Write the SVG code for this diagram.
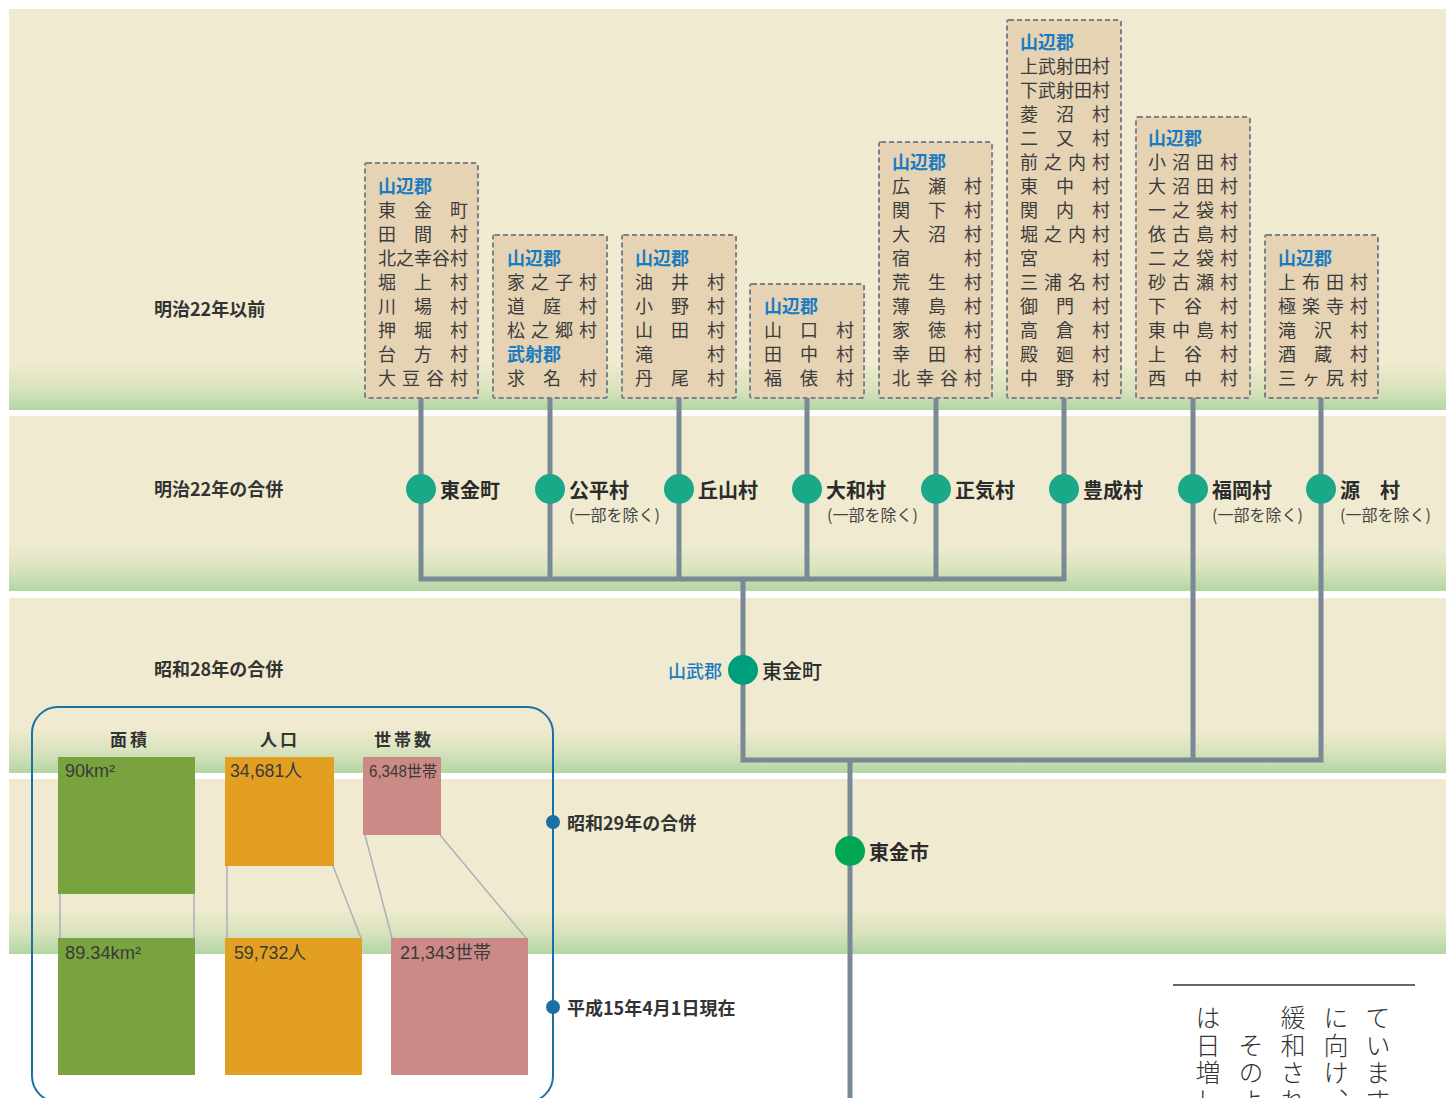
<svg xmlns="http://www.w3.org/2000/svg" width="1448" height="1098" viewBox="0 0 1448 1098">
<defs>
<linearGradient id="g1" x1="0" y1="0" x2="0" y2="1">
<stop offset="0" stop-color="#f0ebd0"/><stop offset="0.88" stop-color="#f0ebd0"/><stop offset="0.95" stop-color="#d8e2bd"/><stop offset="1" stop-color="#b2d6a4"/>
</linearGradient>
<linearGradient id="g2" x1="0" y1="0" x2="0" y2="1">
<stop offset="0" stop-color="#f0ebd0"/><stop offset="0.74" stop-color="#f0ebd0"/><stop offset="0.88" stop-color="#d8e2bd"/><stop offset="1" stop-color="#b2d6a4"/>
</linearGradient>
<style>
.vt{font-family:"Noto Sans CJK JP",sans-serif;font-size:18px;fill:#3c3c3c;dominant-baseline:central}
.hd{font-family:"Noto Sans CJK JP",sans-serif;font-size:18px;fill:#1b7bc0;font-weight:700;dominant-baseline:central}
.box{fill:#e5d3b4;stroke:#7c8189;stroke-width:2;stroke-dasharray:5 3}
.ln{fill:none;stroke:#778a96;stroke-width:5}
.nd{fill:#1aa888}
.nl{font-family:"Noto Sans CJK JP",sans-serif;font-size:20px;font-weight:700;fill:#2b2b2b;dominant-baseline:central}
.sub{font-family:"Noto Sans CJK JP",sans-serif;font-size:16px;fill:#444;dominant-baseline:central}
.era{font-family:"Noto Sans CJK JP",sans-serif;font-size:18px;font-weight:700;fill:#333;dominant-baseline:central}
.num{font-family:"Liberation Sans","Noto Sans CJK JP",sans-serif;font-size:18px;fill:#3a3a3a;dominant-baseline:central}
.sh{font-family:"Noto Sans CJK JP",sans-serif;font-size:17px;font-weight:700;fill:#333;dominant-baseline:central;letter-spacing:3px}
.cl{stroke:#aab0b8;stroke-width:1.5;fill:none}
.vert{font-family:"Noto Sans CJK JP",sans-serif;font-size:25px;font-weight:300;fill:#333;writing-mode:vertical-rl;letter-spacing:2.5px}
</style>
</defs>

<g id="bands">
<rect x="9" y="9" width="1437" height="401" fill="url(#g1)"/>
<rect x="9" y="416" width="1437" height="175" fill="url(#g2)"/>
<rect x="9" y="598" width="1437" height="175" fill="url(#g2)"/>
<rect x="9" y="779" width="1437" height="175" fill="url(#g2)"/>
</g>

<g id="era-labels">
<text class="era" x="154" y="308">明治22年以前</text>
<text class="era" x="154" y="488">明治22年の合併</text>
<text class="era" x="154" y="668">昭和28年の合併</text>
</g>

<g id="connectors">
<path class="ln" d="M421,398 V579 H1064 V398"/>
<path class="ln" d="M550,398 V579"/>
<path class="ln" d="M679,398 V579"/>
<path class="ln" d="M807,398 V579"/>
<path class="ln" d="M936,398 V579"/>
<path class="ln" d="M743,579 V760 H1321 V398"/>
<path class="ln" d="M1193,398 V760"/>
<path class="ln" d="M850,760 V1098"/>
</g>

<g id="box1">
<rect class="box" x="365" y="163" width="113" height="235" rx="2"/>
<text class="hd" x="378" y="185">山辺郡</text>
<text class="vt" x="378 414 450" y="209">東金町</text>
<text class="vt" x="378 414 450" y="233">田間村</text>
<text class="vt" x="378 396 414 432 450" y="257">北之幸谷村</text>
<text class="vt" x="378 414 450" y="281">堀上村</text>
<text class="vt" x="378 414 450" y="305">川場村</text>
<text class="vt" x="378 414 450" y="329">押堀村</text>
<text class="vt" x="378 414 450" y="353">台方村</text>
<text class="vt" x="378 402 426 450" y="377">大豆谷村</text>
</g>

<g id="box2">
<rect class="box" x="493" y="235" width="114" height="163" rx="2"/>
<text class="hd" x="507" y="257">山辺郡</text>
<text class="vt" x="507 531 555 579" y="281">家之子村</text>
<text class="vt" x="507 543 579" y="305">道庭村</text>
<text class="vt" x="507 531 555 579" y="329">松之郷村</text>
<text class="hd" x="507" y="353">武射郡</text>
<text class="vt" x="507 543 579" y="377">求名村</text>
</g>

<g id="box3">
<rect class="box" x="622" y="235" width="114" height="163" rx="2"/>
<text class="hd" x="635" y="257">山辺郡</text>
<text class="vt" x="635 671 707" y="281">油井村</text>
<text class="vt" x="635 671 707" y="305">小野村</text>
<text class="vt" x="635 671 707" y="329">山田村</text>
<text class="vt" x="635 707" y="353">滝村</text>
<text class="vt" x="635 671 707" y="377">丹尾村</text>
</g>

<g id="box4">
<rect class="box" x="750" y="284" width="114" height="114" rx="2"/>
<text class="hd" x="764" y="305">山辺郡</text>
<text class="vt" x="764 800 836" y="329">山口村</text>
<text class="vt" x="764 800 836" y="353">田中村</text>
<text class="vt" x="764 800 836" y="377">福俵村</text>
</g>

<g id="box5">
<rect class="box" x="879" y="142" width="113" height="256" rx="2"/>
<text class="hd" x="892" y="161">山辺郡</text>
<text class="vt" x="892 928 964" y="185">広瀬村</text>
<text class="vt" x="892 928 964" y="209">関下村</text>
<text class="vt" x="892 928 964" y="233">大沼村</text>
<text class="vt" x="892 964" y="257">宿村</text>
<text class="vt" x="892 928 964" y="281">荒生村</text>
<text class="vt" x="892 928 964" y="305">薄島村</text>
<text class="vt" x="892 928 964" y="329">家徳村</text>
<text class="vt" x="892 928 964" y="353">幸田村</text>
<text class="vt" x="892 916 940 964" y="377">北幸谷村</text>
</g>

<g id="box6">
<rect class="box" x="1007" y="20" width="114" height="378" rx="2"/>
<text class="hd" x="1020" y="41">山辺郡</text>
<text class="vt" x="1020 1038 1056 1074 1092" y="65">上武射田村</text>
<text class="vt" x="1020 1038 1056 1074 1092" y="89">下武射田村</text>
<text class="vt" x="1020 1056 1092" y="113">菱沼村</text>
<text class="vt" x="1020 1056 1092" y="137">二又村</text>
<text class="vt" x="1020 1044 1068 1092" y="161">前之内村</text>
<text class="vt" x="1020 1056 1092" y="185">東中村</text>
<text class="vt" x="1020 1056 1092" y="209">関内村</text>
<text class="vt" x="1020 1044 1068 1092" y="233">堀之内村</text>
<text class="vt" x="1020 1092" y="257">宮村</text>
<text class="vt" x="1020 1044 1068 1092" y="281">三浦名村</text>
<text class="vt" x="1020 1056 1092" y="305">御門村</text>
<text class="vt" x="1020 1056 1092" y="329">高倉村</text>
<text class="vt" x="1020 1056 1092" y="353">殿廻村</text>
<text class="vt" x="1020 1056 1092" y="377">中野村</text>
</g>

<g id="box7">
<rect class="box" x="1136" y="117" width="114" height="281" rx="2"/>
<text class="hd" x="1148" y="137">山辺郡</text>
<text class="vt" x="1148 1172 1196 1220" y="161">小沼田村</text>
<text class="vt" x="1148 1172 1196 1220" y="185">大沼田村</text>
<text class="vt" x="1148 1172 1196 1220" y="209">一之袋村</text>
<text class="vt" x="1148 1172 1196 1220" y="233">依古島村</text>
<text class="vt" x="1148 1172 1196 1220" y="257">二之袋村</text>
<text class="vt" x="1148 1172 1196 1220" y="281">砂古瀬村</text>
<text class="vt" x="1148 1184 1220" y="305">下谷村</text>
<text class="vt" x="1148 1172 1196 1220" y="329">東中島村</text>
<text class="vt" x="1148 1184 1220" y="353">上谷村</text>
<text class="vt" x="1148 1184 1220" y="377">西中村</text>
</g>

<g id="box8">
<rect class="box" x="1265" y="235" width="113" height="163" rx="2"/>
<text class="hd" x="1278" y="257">山辺郡</text>
<text class="vt" x="1278 1302 1326 1350" y="281">上布田村</text>
<text class="vt" x="1278 1302 1326 1350" y="305">極楽寺村</text>
<text class="vt" x="1278 1314 1350" y="329">滝沢村</text>
<text class="vt" x="1278 1314 1350" y="353">酒蔵村</text>
<text class="vt" x="1278 1302 1326 1350" y="377">三ヶ尻村</text>
</g>

<g id="node-togane-cho">
<circle class="nd" cx="421" cy="489" r="15"/>
<text class="nl" x="440" y="489">東金町</text>
</g>
<g id="node-kohei">
<circle class="nd" cx="550" cy="489" r="15"/>
<text class="nl" x="569" y="489">公平村</text>
<text class="sub" x="569" y="514">(一部を除く)</text>
</g>
<g id="node-okayama">
<circle class="nd" cx="679" cy="489" r="15"/>
<text class="nl" x="698" y="489">丘山村</text>
</g>
<g id="node-yamato">
<circle class="nd" cx="807" cy="489" r="15"/>
<text class="nl" x="826" y="489">大和村</text>
<text class="sub" x="827" y="514">(一部を除く)</text>
</g>
<g id="node-seiki">
<circle class="nd" cx="936" cy="489" r="15"/>
<text class="nl" x="955" y="489">正気村</text>
</g>
<g id="node-toyonari">
<circle class="nd" cx="1064" cy="489" r="15"/>
<text class="nl" x="1083" y="489">豊成村</text>
</g>
<g id="node-fukuoka">
<circle class="nd" cx="1193" cy="489" r="15"/>
<text class="nl" x="1212" y="489">福岡村</text>
<text class="sub" x="1212" y="514">(一部を除く)</text>
</g>
<g id="node-minamoto">
<circle class="nd" cx="1321" cy="489" r="15"/>
<text class="nl" x="1340" y="489">源　村</text>
<text class="sub" x="1340" y="514">(一部を除く)</text>
</g>
<g id="node-sanbu-togane">
<circle cx="743" cy="670" r="15" fill="#009e7a"/>
<text x="722" y="670" text-anchor="end" style="font-family:'Noto Sans CJK JP',sans-serif;font-size:18px;fill:#1b7bc0;font-weight:500;dominant-baseline:central">山武郡</text>
<text class="nl" x="762" y="670" style="font-weight:500">東金町</text>
</g>
<g id="node-togane-shi">
<circle cx="850" cy="851" r="15" fill="#00a651"/>
<text class="nl" x="869" y="851">東金市</text>
</g>

<g id="stats">
<rect x="32" y="707" width="521" height="395" rx="26" fill="none" stroke="#1a70a2" stroke-width="2"/>
<circle cx="553" cy="822" r="7" fill="#1a70a2"/>
<circle cx="553" cy="1007" r="7" fill="#1a70a2"/>
<text class="era" x="567" y="822">昭和29年の合併</text>
<text class="era" x="567" y="1007">平成15年4月1日現在</text>
<text class="sh" x="130" y="738" text-anchor="middle">面積</text>
<text class="sh" x="280" y="738" text-anchor="middle">人口</text>
<text class="sh" x="404" y="738" text-anchor="middle">世帯数</text>
<path class="cl" d="M60,894 V938 M194,894 V938"/>
<path class="cl" d="M227,866 V938 M333,866 L361,938"/>
<path class="cl" d="M365,835 L392,938 M440,835 L526,938"/>
<rect x="58" y="757" width="137" height="137" fill="#79a33e"/>
<rect x="225" y="757" width="109" height="109" fill="#e39f22"/>
<rect x="363" y="757" width="78" height="78" fill="#cb8a86"/>
<rect x="58" y="938" width="137" height="137" fill="#79a33e"/>
<rect x="225" y="938" width="137" height="137" fill="#e39f22"/>
<rect x="391" y="938" width="137" height="137" fill="#cb8a86"/>
<text class="num" x="65" y="771">90km²</text>
<text class="num" x="230" y="771" textLength="72" lengthAdjust="spacingAndGlyphs">34,681人</text>
<text class="num" x="369" y="771" style="font-size:16px" textLength="68" lengthAdjust="spacingAndGlyphs">6,348世帯</text>
<text class="num" x="65" y="953" textLength="76" lengthAdjust="spacingAndGlyphs">89.34km²</text>
<text class="num" x="234" y="953" textLength="72" lengthAdjust="spacingAndGlyphs">59,732人</text>
<text class="num" x="400" y="953" textLength="91" lengthAdjust="spacingAndGlyphs">21,343世帯</text>
</g>

<g id="vertical-text">
<line x1="1173" y1="985" x2="1415" y2="985" stroke="#333" stroke-width="1.5"/>
<text class="vert" x="1378" y="1005">ています</text>
<text class="vert" x="1336" y="1005">に向け、</text>
<text class="vert" x="1293" y="1005">緩和され</text>
<text class="vert" x="1251" y="1005">　そのよ</text>
<text class="vert" x="1208" y="1005">は日増し</text>
</g>
</svg>
